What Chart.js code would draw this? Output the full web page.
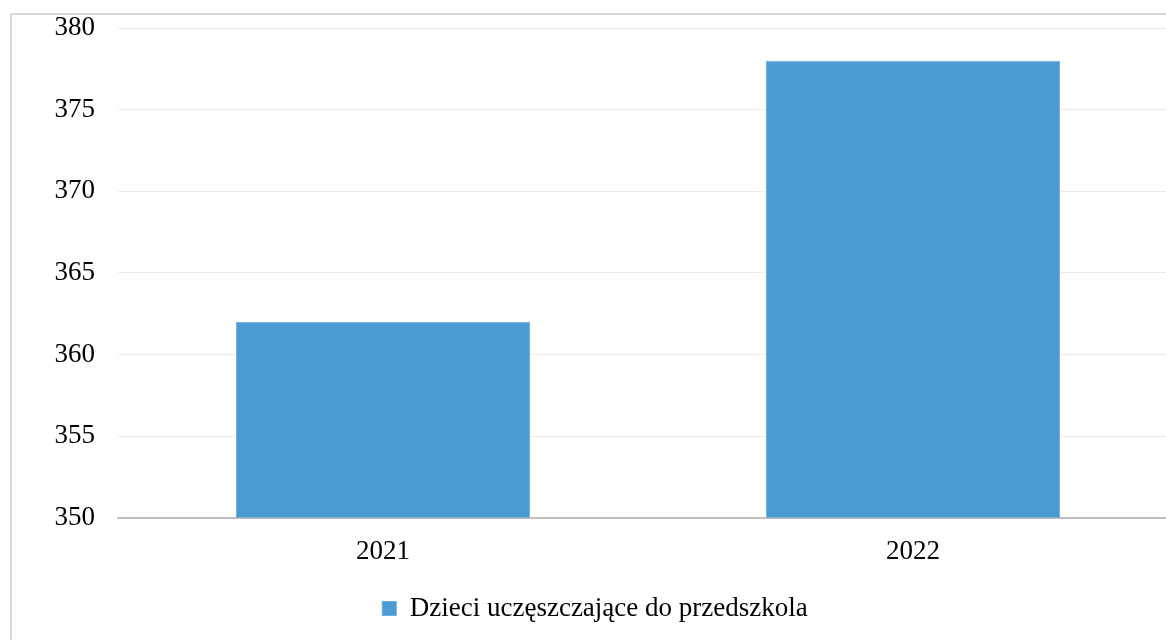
<!DOCTYPE html>
<html>
<head>
<meta charset="utf-8">
<script src="https://cdn.jsdelivr.net/npm/chart.js@4.4.0/dist/chart.umd.min.js"></script>
<style>
  html, body { margin: 0; padding: 0; background: #fff; overflow: hidden; }
  #frame {
    position: absolute; left: 10px; top: 13px;
    width: 1170px; height: 640px;
    border: 2px solid #d9d9d9;
  }
  #wrap {
    position: absolute; left: 0; top: -26px;
    width: 1170px; height: 666px;
  }
</style>
</head>
<body>
<div id="frame"><div id="wrap"><canvas id="chart"></canvas></div></div>
<script>
// data
const years = ['2021', '2022'];
const children = [362, 378];
const seriesName = 'Dzieci uczęszczające do przedszkola';
const yMin = 350, yMax = 380, yStep = 5;

const FONT = 'Liberation Serif, "Times New Roman", serif';

new Chart(document.getElementById('chart'), {
    type: 'bar',
    data: {
        labels: years,
        datasets: [{
            label: seriesName,
            data: children,
            backgroundColor: '#4c9bd3',
            borderColor: '#6aaee0',
            borderWidth: 1,
            categoryPercentage: 1,
            barPercentage: 0.555
        }]
    },
    options: {
        responsive: true,
        maintainAspectRatio: false,
        animation: false,
        layout: { padding: { top: 0, right: 4, bottom: 23, left: 0 } },
        scales: {
            x: {
                grid: { display: false, drawTicks: false },
                border: { color: '#bfbfbf', width: 2 },
                ticks: { color: '#000', padding: 18, font: { family: FONT, size: 27 } },
                afterFit: function(scale) { scale.height -= 1; }
            },
            y: {
                min: yMin,
                max: yMax,
                grid: { color: '#ececec', lineWidth: 1, drawTicks: false },
                border: { display: false },
                ticks: { stepSize: yStep, color: '#000', padding: 23, font: { family: FONT, size: 27 } },
                afterFit: function(scale) { scale.width = 106; }
            }
        },
        plugins: {
            legend: {
                position: 'bottom',
                labels: {
                    color: '#000',
                    boxWidth: 14,
                    boxHeight: 14,
                    font: { family: FONT, size: 27 }
                }
            },
            tooltip: { enabled: false }
        }
    }
});
</script>
</body>
</html>
